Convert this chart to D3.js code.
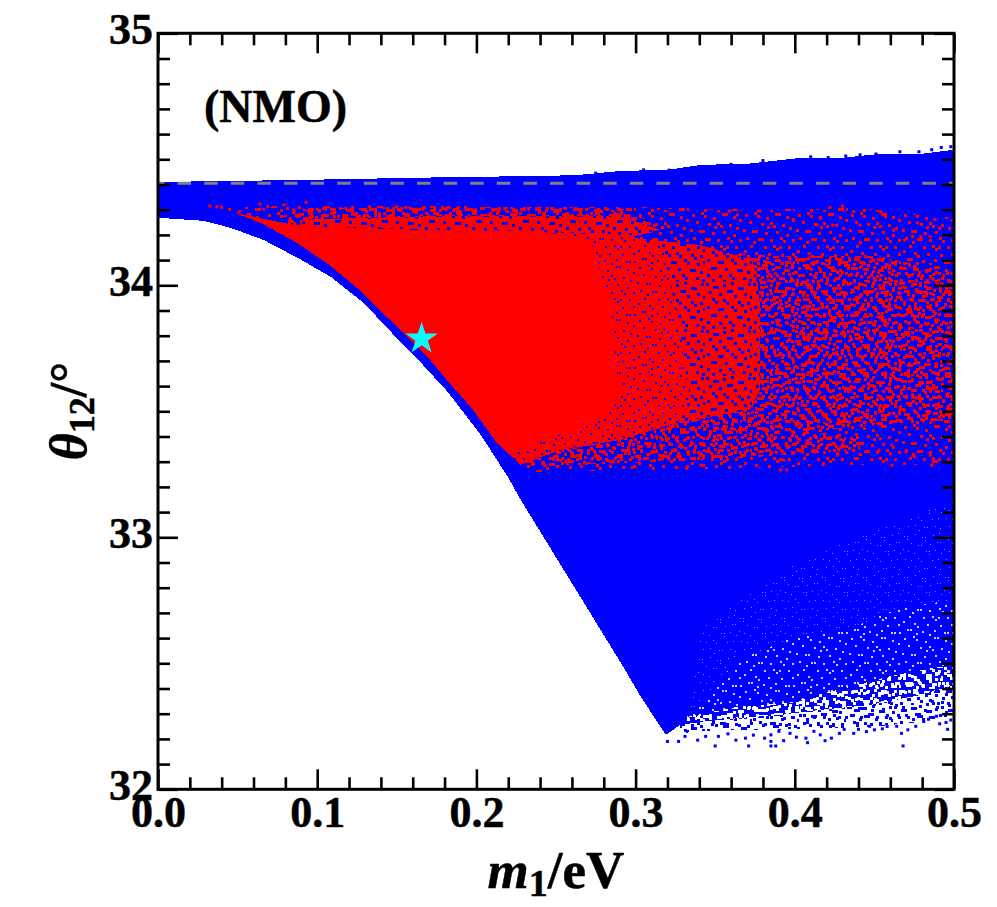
<!DOCTYPE html>
<html>
<head>
<meta charset="utf-8">
<script src="https://cdn.jsdelivr.net/npm/d3@7"></script>
<style>
  html, body { margin: 0; padding: 0; background: #fff; }
  svg { display: block; }
  text { font-family: "Liberation Serif", "Times New Roman", serif; font-weight: bold; fill: #000; stroke: #000; stroke-width: 0.5px; }
</style>
</head>
<body>
<div id="chart"></div>
<script>
// Tick labels
const xMajor = [0, 0.1, 0.2, 0.3, 0.4, 0.5];
const yMajor = [32, 33, 34, 35];

// Outline of the blue cloud, [m1, theta12]
const blueOutline = [
  [0, 34.41], [0.0892, 34.418], [0.19, 34.43], [0.2467, 34.434], [0.268, 34.44], [0.291, 34.454],
  [0.32, 34.458], [0.341, 34.478], [0.37, 34.482], [0.404, 34.506], [0.43, 34.506], [0.454, 34.522],
  [0.48, 34.522], [0.5, 34.538],
  [0.5, 32.414], [0.4786, 32.374], [0.4472, 32.335], [0.4158, 32.315], [0.3907, 32.295],
  [0.3656, 32.283], [0.3405, 32.267], [0.3279, 32.255], [0.319, 32.216], [0.3033, 32.367],
  [0.2907, 32.502], [0.2278, 33.149], [0.2197, 33.24], [0.2027, 33.407], [0.182, 33.577],
  [0.1606, 33.724], [0.148, 33.804], [0.1292, 33.93], [0.1084, 34.034], [0.0877, 34.109],
  [0.0663, 34.18], [0.0456, 34.228], [0.0286, 34.256], [0, 34.268]
];

// Thin tail of blue points under the main body
const blueFringe = [
  [0.3279, 32.255], [0.3405, 32.267], [0.3656, 32.283], [0.3907, 32.295], [0.4158, 32.315],
  [0.4472, 32.335], [0.4786, 32.374], [0.5, 32.414], [0.5, 32.295], [0.4786, 32.267],
  [0.4472, 32.247], [0.4158, 32.243], [0.3844, 32.235], [0.353, 32.235], [0.3279, 32.223]
];

// Red cloud, split into bands of falling point density
const redEnvelope = [
  [0.0484, 34.311], [0.0892, 34.314], [0.2902, 34.311], [0.3781, 34.299], [0.441, 34.307],
  [0.5, 34.267], [0.5, 33.287], [0.441, 33.287], [0.3781, 33.275], [0.3153, 33.267],
  [0.2337, 33.259], [0.2211, 33.327], [0.2129, 33.374], [0.1979, 33.505], [0.1815, 33.624],
  [0.1709, 33.704], [0.1552, 33.803], [0.1394, 33.902], [0.1288, 33.969], [0.108, 34.079],
  [0.0873, 34.168], [0.066, 34.243]
];
const redLowFringe = [
  [0.2211, 33.327], [0.2902, 33.406], [0.3781, 33.426], [0.441, 33.406], [0.441, 33.346],
  [0.3781, 33.32], [0.3153, 33.3], [0.2337, 33.28]
];
const redMid = [
  [0.3405, 34.14], [0.3907, 34.115], [0.4535, 34.115], [0.5, 34.047], [0.5, 33.465],
  [0.4535, 33.446], [0.3844, 33.406], [0.3405, 33.406], [0.2902, 33.366], [0.2337, 33.327]
];
const redTopFringe = [
  [0.066, 34.243], [0.0892, 34.303], [0.1771, 34.314], [0.2902, 34.307], [0.3153, 34.239],
  [0.2902, 34.18], [0.1771, 34.219], [0.0892, 34.235]
];
const redTopInner = [
  [0.0892, 34.26], [0.1771, 34.275], [0.2902, 34.275], [0.3153, 34.22],
  [0.2902, 34.18], [0.1771, 34.219], [0.0892, 34.235]
];
const redHigh = [
  [0.2776, 34.2], [0.3405, 34.16], [0.3737, 34.099], [0.3781, 33.941], [0.3781, 33.584],
  [0.3719, 33.505], [0.3342, 33.465], [0.2776, 33.386], [0.24, 33.346]
];
const redDense = [
  [0.2148, 34.215], [0.2933, 34.2], [0.3166, 34.16], [0.3279, 33.823], [0.3342, 33.545],
  [0.3216, 33.446], [0.2902, 33.386], [0.2525, 33.346], [0.2274, 33.287], [0.2148, 33.374]
];
const redSolid = [
  [0.0484, 34.287], [0.0892, 34.235], [0.1709, 34.219], [0.2274, 34.215], [0.2714, 34.18],
  [0.2839, 33.941], [0.2902, 33.545], [0.2714, 33.446], [0.2431, 33.386], [0.2211, 33.327],
  [0.2129, 33.374], [0.1979, 33.505], [0.1815, 33.624], [0.1709, 33.704], [0.1552, 33.803],
  [0.1394, 33.902], [0.1288, 33.969], [0.108, 34.079], [0.0873, 34.168], [0.066, 34.243]
];

// White gaps in the lower right of the blue cloud, also by density
const gapHeavy = [
  [0.3323, 32.287], [0.3637, 32.327], [0.3951, 32.342], [0.4265, 32.394], [0.4579, 32.446],
  [0.4893, 32.485], [0.5, 32.485], [0.5, 32.414], [0.4786, 32.374], [0.4472, 32.335],
  [0.4158, 32.315], [0.3907, 32.295], [0.3656, 32.283], [0.3405, 32.267], [0.3323, 32.262]
];
const gapLight = [
  [0.3637, 32.513], [0.3951, 32.592], [0.4366, 32.644], [0.468, 32.723], [0.5, 32.751],
  [0.5, 32.485], [0.4579, 32.446], [0.4265, 32.394], [0.3951, 32.342], [0.3637, 32.327], [0.3323, 32.287]
];
const gapFaint = [
  [0.3423, 32.644], [0.3951, 32.882], [0.4472, 33.017], [0.5, 33.148], [0.5, 32.751],
  [0.468, 32.723], [0.4366, 32.644], [0.3951, 32.592], [0.3637, 32.513], [0.3323, 32.287]
];

// Single points that stand clear of the clouds
const redPoints = [
  [0.0326, 34.315], [0.037, 34.312], [0.04, 34.309], [0.045, 34.301], [0.051, 34.292],
  [0.064, 34.323], [0.069, 34.312], [0.079, 34.319], [0.093, 34.329], [0.085, 34.299],
  [0.104, 34.305], [0.118, 34.305], [0.133, 34.312], [0.15, 34.312], [0.166, 34.305],
  [0.183, 34.309], [0.422, 34.309], [0.43, 34.314], [0.437, 34.292], [0.454, 34.292],
  [0.457, 34.272], [0.488, 34.261], [0.477, 34.248], [0.359, 34.295], [0.378, 34.295],
  [0.364, 34.279], [0.399, 34.261], [0.416, 34.269], [0.414, 34.239], [0.424, 34.239],
  [0.441, 34.239], [0.491, 34.226], [0.485, 34.193], [0.474, 34.193], [0.462, 34.219],
  [0.469, 34.179], [0.479, 34.193], [0.391, 33.267], [0.395, 33.267], [0.418, 33.293],
  [0.461, 33.286], [0.486, 33.286], [0.487, 33.3], [0.47, 33.339], [0.485, 33.326],
  [0.475, 33.32], [0.393, 33.306], [0.341, 33.286], [0.354, 33.293], [0.332, 33.273],
  [0.298, 33.277], [0.438, 33.313], [0.427, 33.326], [0.399, 33.333], [0.405, 33.339],
  [0.453, 33.346], [0.461, 33.366], [0.497, 33.439], [0.491, 33.478]
];
const bluePoints = [
  [0.32, 32.19], [0.327, 32.19], [0.339, 32.195], [0.35, 32.172], [0.363, 32.195],
  [0.369, 32.203], [0.371, 32.172], [0.381, 32.203], [0.385, 32.216], [0.385, 32.19],
  [0.385, 32.172], [0.388, 32.172], [0.393, 32.193], [0.401, 32.207], [0.407, 32.203],
  [0.408, 32.185], [0.416, 32.216], [0.419, 32.193], [0.423, 32.203], [0.437, 32.222],
  [0.445, 32.229], [0.45, 32.236], [0.458, 32.249], [0.467, 32.222], [0.468, 32.172],
  [0.471, 32.236], [0.481, 32.269], [0.491, 32.26], [0.495, 32.265], [0.496, 32.238],
  [0.331, 32.21], [0.344, 32.21], [0.352, 32.21], [0.358, 32.22], [0.374, 32.215],
  [0.39, 32.23], [0.397, 32.222], [0.412, 32.23], [0.428, 32.222], [0.431, 32.238],
  [0.44, 32.238], [0.447, 32.25], [0.455, 32.24], [0.464, 32.25], [0.476, 32.25],
  [0.484, 32.278], [0.489, 32.29], [0.498, 32.275], [0.492, 34.547], [0.451, 34.521],
  [0.466, 34.53], [0.421, 34.507], [0.432, 34.513], [0.393, 34.488], [0.346, 34.468],
  [0.321, 34.457], [0.478, 34.53], [0.486, 34.538], [0.498, 34.55], [0.441, 34.518],
  [0.41, 34.51], [0.38, 34.495], [0.36, 34.48], [0.305, 34.458], [0.275, 34.445]
];

const bestFit = [0.1656, 33.788];
const referenceTheta = 34.405;

// Stipple tiles in px. Texture for the density bands, not values from the chart
const tile41 = [[2, 3], [5, 3], [5, 6], [13, 1], [20, 4], [23, 4], [23, 7], [31, 2], [37, 0], [9, 10],
  [16, 12], [19, 12], [28, 11], [35, 9], [38, 9], [1, 16], [6, 18], [12, 20], [24, 18], [27, 18],
  [27, 21], [33, 17], [39, 20], [3, 26], [9, 27], [16, 25], [19, 28], [30, 27], [36, 26], [6, 34],
  [13, 33], [22, 35], [25, 35], [33, 34], [38, 36], [17, 38]];
const tile47 = [[1, 1], [8, 4], [11, 4], [18, 2], [26, 0], [33, 5], [36, 5], [43, 1], [4, 9], [14, 11],
  [22, 8], [25, 8], [29, 13], [39, 11], [45, 14], [7, 16], [10, 19], [18, 17], [21, 20], [33, 19],
  [36, 22], [42, 20], [2, 24], [13, 26], [16, 26], [26, 24], [29, 27], [39, 28], [45, 26], [6, 32],
  [9, 32], [20, 33], [32, 34], [35, 34], [42, 36], [2, 39], [14, 40], [24, 39], [27, 42], [38, 42],
  [44, 44], [7, 44], [18, 45]];
const tile53 = [[3, 2], [12, 0], [15, 3], [24, 5], [33, 1], [36, 1], [44, 4], [50, 7], [7, 9], [19, 11],
  [28, 10], [31, 13], [40, 12], [47, 15], [1, 17], [10, 18], [13, 18], [23, 20], [34, 19], [44, 22],
  [4, 25], [16, 26], [19, 26], [28, 27], [38, 25], [41, 28], [50, 27], [8, 33], [22, 34], [31, 33],
  [34, 36], [46, 34], [2, 38], [13, 40], [16, 43], [26, 41], [39, 42], [50, 41], [6, 46], [9, 46],
  [21, 48], [33, 47], [43, 49], [46, 49], [28, 51], [15, 50], [51, 49], [37, 34], [11, 29], [25, 14]];

const width = 997;
const height = 907;
const plot = { left: 158, right: 954, top: 33.3, bottom: 789.3 };

const svg = d3.select('#chart')
  .append('svg')
  .attr('width', width)
  .attr('height', height);

const x = d3.scaleLinear().domain([0, 0.5]).range([plot.left, plot.right]);
const y = d3.scaleLinear().domain([32, 35]).range([plot.bottom, plot.top]);

const defs = svg.append('defs');

defs.append('clipPath').attr('id', 'plot-clip')
  .append('rect')
  .attr('x', plot.left)
  .attr('y', plot.top)
  .attr('width', plot.right - plot.left)
  .attr('height', plot.bottom - plot.top);

function addTile(id, period, tile, color, size, opacity) {
  const p = defs.append('pattern')
    .attr('id', id)
    .attr('patternUnits', 'userSpaceOnUse')
    .attr('width', period)
    .attr('height', period);
  p.selectAll('rect')
    .data(tile)
    .join('rect')
    .attr('x', d => d[0])
    .attr('y', d => d[1])
    .attr('width', size)
    .attr('height', size)
    .attr('fill', color)
    .attr('opacity', opacity);
}

addTile('red-41', 41, tile41, '#ff0000', 3, 1);
addTile('red-47', 47, tile47, '#ff0000', 3, 1);
addTile('red-53', 53, tile53, '#ff0000', 3, 1);
addTile('blue-47', 47, tile47, '#0000ff', 3, 1);
addTile('blue-53', 53, tile53, '#0000ff', 3, 1);
addTile('blue-fine', 53, tile53, '#0000ff', 2, 1);
addTile('white-41', 41, tile41, '#ffffff', 3, 1);
addTile('white-47', 47, tile47, '#ffffff', 3, 1);
addTile('white-53', 53, tile53, '#ffffff', 2, 0.8);
addTile('white-53-big', 53, tile53, '#ffffff', 3, 1);
addTile('white-fine', 41, tile41, '#ffffff', 1, 0.5);

const area = d3.line().x(d => x(d[0])).y(d => y(d[1])).curve(d3.curveLinearClosed);

const marks = svg.append('g').attr('clip-path', 'url(#plot-clip)');

function fillBand(points, fill) {
  marks.append('path')
    .attr('d', area(points))
    .attr('fill', fill)
    .attr('shape-rendering', 'crispEdges');
}

function drawDots(points, color) {
  marks.append('g')
    .selectAll('rect')
    .data(points)
    .join('rect')
    .attr('x', d => x(d[0]) - 1.5)
    .attr('y', d => y(d[1]) - 1.5)
    .attr('width', 3)
    .attr('height', 3)
    .attr('fill', color);
}

// Blue cloud and its gaps
fillBand(blueOutline, '#0000ff');
fillBand(gapHeavy, 'url(#white-41)');
fillBand(gapHeavy, 'url(#white-47)');
fillBand(gapHeavy, 'url(#white-53-big)');
fillBand(gapLight, 'url(#white-53)');
fillBand(gapFaint, 'url(#white-fine)');
fillBand(blueFringe, 'url(#blue-47)');
fillBand(blueFringe, 'url(#blue-53)');
drawDots(bluePoints, '#0000ff');

// Red cloud, thin bands first
fillBand(redEnvelope, 'url(#red-53)');
fillBand(redLowFringe, 'url(#red-41)');
fillBand(redLowFringe, 'url(#red-47)');
fillBand(redMid, 'url(#red-41)');
fillBand(redMid, 'url(#red-47)');
fillBand(redMid, 'url(#red-53)');
fillBand(redTopFringe, 'url(#red-41)');
fillBand(redTopFringe, 'url(#red-47)');
fillBand(redTopFringe, 'url(#red-53)');
fillBand(redTopInner, '#ff0000');
fillBand(redTopInner, 'url(#blue-47)');
fillBand(redHigh, '#ff0000');
fillBand(redHigh, 'url(#blue-47)');
fillBand(redDense, '#ff0000');
fillBand(redDense, 'url(#blue-fine)');
fillBand(redSolid, '#ff0000');
drawDots(redPoints, '#ff0000');

// Reference line
marks.append('line')
  .attr('x1', plot.left)
  .attr('x2', plot.right)
  .attr('y1', y(referenceTheta))
  .attr('y2', y(referenceTheta))
  .attr('stroke', '#808080')
  .attr('stroke-width', 3)
  .attr('stroke-dasharray', '13.5 13.1')
  .attr('stroke-dashoffset', 7);

// Best fit star
svg.append('path')
  .attr('d', d3.symbol(d3.symbolStar, 324)())
  .attr('transform', `translate(${x(bestFit[0])},${y(bestFit[1])})`)
  .attr('fill', '#00ffff');

// Axes
const xMinor = d3.range(0, 0.5001, 0.02).filter(v => !xMajor.some(m => Math.abs(m - v) < 1e-6));
const yMinor = d3.range(32, 35.001, 0.1).filter(v => !yMajor.some(m => Math.abs(m - v) < 1e-6));

function styleAxis(g) {
  g.select('.domain').remove();
  g.selectAll('.tick line').attr('stroke', '#000').attr('stroke-width', 2.6);
  g.selectAll('.tick text').attr('font-size', 44).attr('fill', '#000');
}

const minorLen = 12;
const majorLen = 20;
const axes = svg.append('g');

[xMinor, xMajor].forEach((ticks, i) => {
  const len = i ? majorLen : minorLen;
  axes.append('g')
    .attr('transform', `translate(0,${plot.bottom})`)
    .call(d3.axisBottom(x).tickValues(ticks).tickSize(-len).tickPadding(6.5)
      .tickFormat(i ? d3.format('.1f') : ''))
    .call(styleAxis);
  axes.append('g')
    .attr('transform', `translate(0,${plot.top})`)
    .call(d3.axisTop(x).tickValues(ticks).tickSize(-len).tickFormat(''))
    .call(styleAxis);
});

[yMinor, yMajor].forEach((ticks, i) => {
  const len = i ? majorLen : minorLen;
  axes.append('g')
    .attr('transform', `translate(${plot.left},0)`)
    .call(d3.axisLeft(y).tickValues(ticks).tickSize(-len).tickPadding(5)
      .tickFormat(i ? d3.format('d') : ''))
    .call(styleAxis)
    .call(g => g.selectAll('.tick text').attr('y', -4));
  axes.append('g')
    .attr('transform', `translate(${plot.right},0)`)
    .call(d3.axisRight(y).tickValues(ticks).tickSize(-len).tickFormat(''))
    .call(styleAxis);
});

// Frame
svg.append('rect')
  .attr('x', plot.left)
  .attr('y', plot.top)
  .attr('width', plot.right - plot.left)
  .attr('height', plot.bottom - plot.top)
  .attr('fill', 'none')
  .attr('stroke', '#000')
  .attr('stroke-width', 3);

// Panel tag
svg.append('text')
  .attr('x', 204)
  .attr('y', 122)
  .attr('font-size', 46)
  .text('(NMO)');

// Axis titles
const xTitle = svg.append('text')
  .attr('x', 556)
  .attr('y', 888)
  .attr('text-anchor', 'middle')
  .attr('font-size', 53);
xTitle.append('tspan').attr('font-style', 'italic').text('m');
xTitle.append('tspan').attr('font-size', 38).attr('dy', 8).text('1');
xTitle.append('tspan').attr('dy', -8).text('/eV');

const yTitle = svg.append('text')
  .attr('transform', 'translate(86,411) rotate(-90)')
  .attr('text-anchor', 'middle')
  .attr('font-size', 52);
yTitle.append('tspan').attr('font-style', 'italic').text('θ');
yTitle.append('tspan').attr('font-size', 36).attr('dy', 8).text('12');
yTitle.append('tspan').attr('dy', -8).text('/°');
</script>
</body>
</html>
